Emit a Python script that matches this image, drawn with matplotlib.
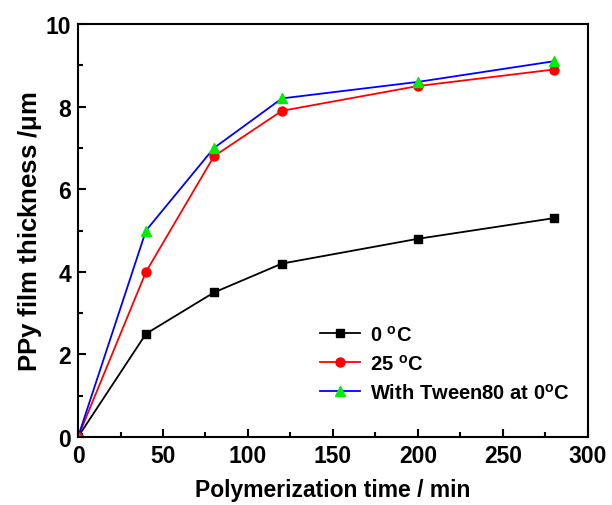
import matplotlib.pyplot as plt
from matplotlib.ticker import MultipleLocator

plt.rcParams['font.family'] = ['Liberation Sans', 'DejaVu Sans']
plt.rcParams['font.weight'] = 'bold'

# Data
time = [0, 40, 80, 120, 200, 280]
t0 = [0, 2.5, 3.5, 4.2, 4.8, 5.3]
t25 = [0, 4.0, 6.8, 7.9, 8.5, 8.9]
tween = [0, 5.0, 7.0, 8.2, 8.6, 9.1]

fig = plt.figure(figsize=(6.12, 5.06), dpi=100)
ax = fig.add_axes([0.1275, 0.1344, 0.833, 0.816])

ax.plot(time, t0, color='black', marker='s', markersize=6, lw=1.3, label='0 $^\\mathregular{o}$C')
ax.plot(time, t25, color='red', marker='o', markersize=6.5, lw=1.3, label='25 $^\\mathregular{o}$C')
ax.plot(time, tween, color='blue', marker='^', markersize=7, lw=1.3,
        markerfacecolor='#00ee00', markeredgecolor='#00ee00', label='With Tween80 at 0$^\\mathregular{o}$C')

ax.set_xlim(0, 300)
ax.set_ylim(0, 10)
ax.xaxis.set_major_locator(MultipleLocator(50))
ax.xaxis.set_minor_locator(MultipleLocator(25))
ax.yaxis.set_major_locator(MultipleLocator(2))
ax.yaxis.set_minor_locator(MultipleLocator(1))
ax.tick_params(which='both', direction='in', width=1.5, labelsize=16.5)
ax.tick_params(which='major', length=6, pad=5)
ax.tick_params(which='minor', length=3.5)
for s in ax.spines.values():
    s.set_linewidth(1.5)

ax.set_xlabel('Polymerization time / min', fontsize=16.5, fontweight='bold', labelpad=8)
ax.set_ylabel('PPy film thickness /$\\mathregular{\\mu}$m', fontsize=18.5, fontweight='bold', labelpad=1)

ax.legend(loc='lower right', bbox_to_anchor=(1.0, 0.04), frameon=False, fontsize=14.5,
          handlelength=2.0, handletextpad=0.5, labelspacing=0.45)

fig.savefig('out.png', dpi=100)
